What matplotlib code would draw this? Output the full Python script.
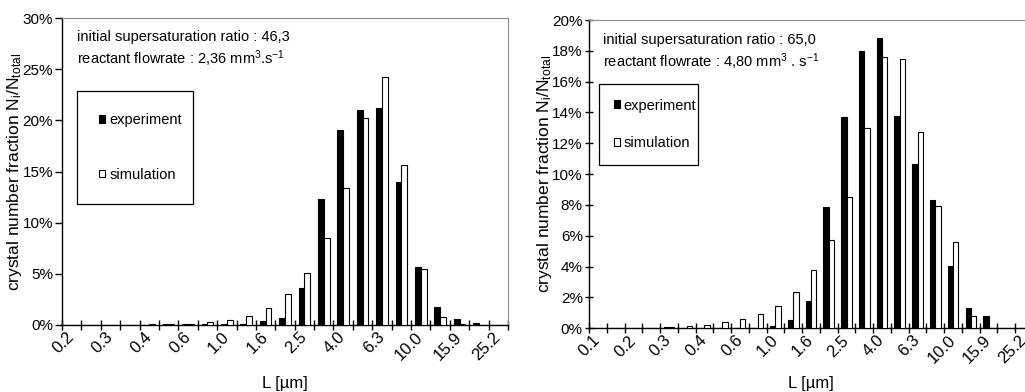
import numpy as np
import matplotlib
matplotlib.use("Agg")
import matplotlib.pyplot as plt
from matplotlib import font_manager
from matplotlib.patches import Patch

# ---------------------------------------------------------------- data
# size classes (geometric, ratio 10^0.1); only every second class is labelled
left_labels = ["0.2", "", "0.3", "", "0.4", "", "0.6", "", "1.0", "", "1.6", "",
               "2.5", "", "4.0", "", "6.3", "", "10.0", "", "15.9", "", "25.2"]
left_experiment = [0, 0, 0, 0.03, 0.04, 0.1, 0.13, 0.05, 0.05, 0.05, 0.4, 0.72,
                   3.6, 12.3, 19.1, 21.05, 21.2, 14.0, 5.7, 1.8, 0.55, 0.15, 0]
left_simulation = [0, 0, 0.02, 0.03, 0.08, 0.08, 0.1, 0.25, 0.47, 0.92, 1.7, 3.0,
                   5.1, 8.5, 13.4, 20.2, 24.25, 15.6, 5.5, 0.8, 0.05, 0, 0]

right_labels = ["0.1", "", "0.2", "", "0.3", "", "0.4", "", "0.6", "", "1.0", "",
                "1.6", "", "2.5", "", "4.0", "", "6.3", "", "10.0", "", "15.9", "",
                "25.2"]
right_experiment = [0.02, 0.04, 0.05, 0.05, 0.07, 0, 0, 0, 0, 0, 0.17, 0.54,
                    1.8, 7.85, 13.68, 17.98, 18.8, 13.8, 10.65, 8.32, 4.06, 1.3,
                    0.8, 0, 0]
right_simulation = [0.02, 0.02, 0.03, 0.04, 0.1, 0.15, 0.24, 0.41, 0.6, 0.93,
                    1.47, 2.38, 3.78, 5.73, 8.5, 13.0, 17.6, 17.5, 12.75, 7.95,
                    5.58, 0.82, 0.05, 0, 0]

left_info = ["initial supersaturation ratio : 46,3",
             r"reactant flowrate : 2,36 mm$^3$.s$^{-1}$"]
right_info = ["initial supersaturation ratio : 65,0",
              r"reactant flowrate : 4,80 mm$^3$ . s$^{-1}$"]

series_names = ["experiment", "simulation"]
ylabel = r"crystal number fraction N$_{i}$/N$_{total}$"
xlabel = "L [µm]"

# ---------------------------------------------------------------- fonts
W, H = 1025, 392
installed = {f.name for f in font_manager.fontManager.ttflist}
BASE = "Liberation Sans"
if "Liberation Sans Narrow" in installed:
    NARROW, NARROW_SIZE = "Liberation Sans Narrow", 12.5
else:
    NARROW, NARROW_SIZE = BASE, 10.5

plt.rcParams["font.family"] = [BASE, "DejaVu Sans"]
plt.rcParams["mathtext.default"] = "regular"


def fig_rect(x0, y0, x1, y1):
    """pixel box (top-left origin) -> figure fraction rect"""
    return [x0 / W, 1 - y1 / H, (x1 - x0) / W, (y1 - y0) / H]


fig = plt.figure(figsize=(W / 100, H / 100), dpi=100)


def draw_panel(rect, labels, exp, sim, ymax, ystep, info, info_xy, leg_box,
               leg_spacing, leg_pad, ytick_dir, ylabel_x):
    ax = fig.add_axes(fig_rect(*rect))
    n = len(labels)
    x = np.arange(n)
    bw = 0.30
    ax.bar(x - bw / 2, exp, width=bw, color="black", edgecolor="black",
           linewidth=0.8, zorder=3)
    ax.bar(x + bw / 2, sim, width=bw, color="white", edgecolor="black",
           linewidth=0.8, zorder=3)

    ax.set_xlim(-0.5, n - 0.5)
    ax.set_ylim(0, ymax)

    # category labels at class centres, tick marks at class boundaries
    ax.set_xticks(x)
    ax.set_xticklabels(labels, fontsize=12)
    ax.set_xticks(np.arange(n + 1) - 0.5, minor=True)
    ax.tick_params(axis="x", which="major", length=0, pad=7)
    ax.tick_params(axis="x", which="minor", length=7, direction="inout",
                   width=1)
    for t in ax.get_xticklabels():
        t.set_rotation(45)
        t.set_ha("right")
        t.set_va("center")
        t.set_rotation_mode("anchor")

    yt = np.arange(0, ymax + 0.001, ystep)
    ax.set_yticks(yt)
    ax.set_yticklabels([f"{v:.0f}%" for v in yt], fontsize=11)
    ax.tick_params(axis="y", length=6 if ytick_dir == "inout" else 5,
                   direction=ytick_dir, pad=1.5, width=1)

    for s in ("left", "bottom"):
        ax.spines[s].set_color("black")
        ax.spines[s].set_linewidth(1.0)
    for s in ("top", "right"):
        ax.spines[s].set_color("#8c8c8c")
        ax.spines[s].set_linestyle((0, (1.5, 1)))
        ax.spines[s].set_linewidth(0.8)

    # axis titles
    cx = (rect[0] + rect[2]) / 2
    cy = (rect[1] + rect[3]) / 2
    fig.text(cx / W, 1 - 383.5 / H, xlabel, ha="center", va="center",
             fontsize=12)
    fig.text(ylabel_x / W, 1 - cy / H, ylabel, rotation=90, ha="center",
             va="center", fontsize=12.5)

    # run conditions
    for k, line in enumerate(info):
        fig.text(info_xy[0] / W, 1 - (info_xy[1] + k * 21.5) / H, line,
                 ha="left", va="center", family=[NARROW, "DejaVu Sans"],
                 fontsize=NARROW_SIZE)

    handles = [Patch(facecolor="black", edgecolor="black", linewidth=0.8),
               Patch(facecolor="white", edgecolor="black", linewidth=0.8)]
    lx0, ly0, lx1, ly1 = leg_box
    leg = ax.legend(handles, series_names, loc="upper left",
                    bbox_to_anchor=(lx0 / W, 1 - ly0 / H, (lx1 - lx0) / W, 0),
                    bbox_transform=fig.transFigure, mode="expand",
                    borderaxespad=0, frameon=True, fancybox=False,
                    edgecolor="black", framealpha=1, shadow=False,
                    prop={"family": NARROW, "size": NARROW_SIZE},
                    handlelength=0.45, handleheight=0.45, handletextpad=0.25,
                    labelspacing=leg_spacing, borderpad=leg_pad)
    leg.get_frame().set_linewidth(0.9)
    return ax


draw_panel((62, 18, 508, 325), left_labels, left_experiment, left_simulation,
           30, 5, left_info, (77, 37), (77, 91, 193, 204), 2.8, 1.5, "out",
           15)
draw_panel((589, 20, 1033, 328.3), right_labels, right_experiment,
           right_simulation, 20, 2, right_info, (603, 40), (599, 84, 698, 163),
           1.6, 1.0, "inout", 545)

fig.savefig("out.png", dpi=100)
